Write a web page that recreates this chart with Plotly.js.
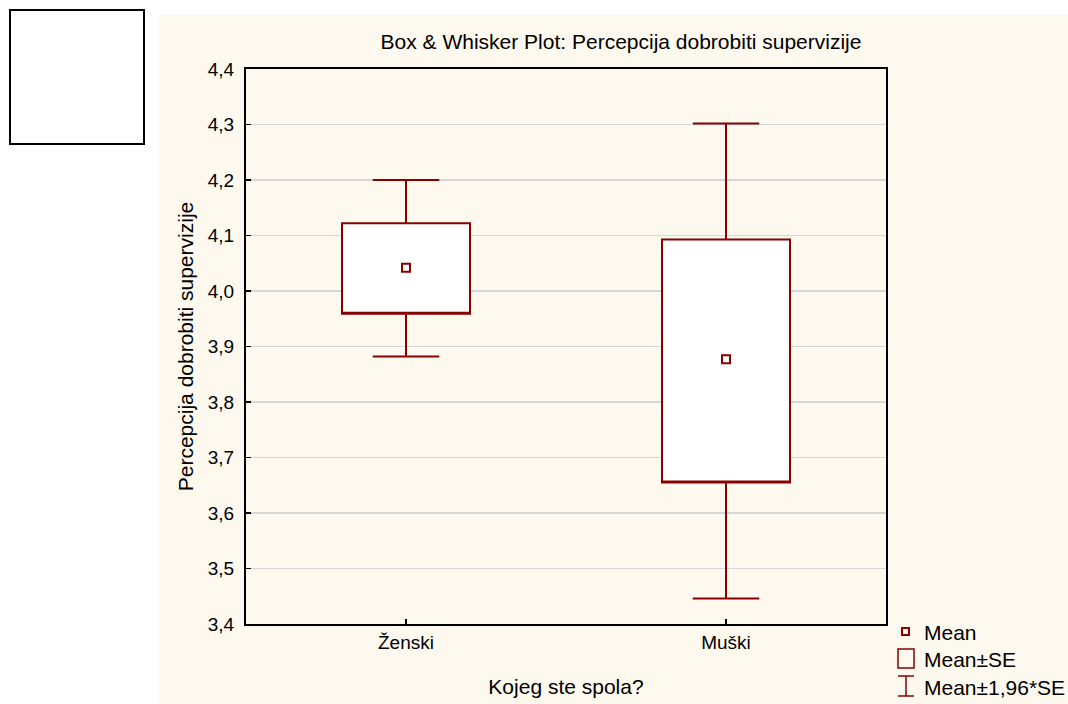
<!DOCTYPE html>
<html>
<head>
<meta charset="utf-8">
<script src="https://cdn.plot.ly/plotly-3.0.1.min.js"></script>
<style>
html,body{margin:0;padding:0;background:#ffffff;}
#chart{width:1068px;height:704px;}
</style>
</head>
<body>
<div id="chart"></div>
<script>
// ---- data ----
const categories = ['Ženski', 'Muški'];
const means   = [4.042, 3.877];
const seLow   = [3.959, 3.655];
const seHigh  = [4.122, 4.093];
const ciLow   = [3.882, 3.446];
const ciHigh  = [4.200, 4.302];
const yTicks  = [3.4, 3.5, 3.6, 3.7, 3.8, 3.9, 4.0, 4.1, 4.2, 4.3, 4.4];
const legendLabels = ['Mean', 'Mean±SE', 'Mean±1,96*SE'];

// ---- styling / layout helpers ----
const RED = '#880000';
const CREAM = '#fdf9ef';
const FONT = 'Liberation Sans, Arial, sans-serif';
const W = 1068, H = 704;
const L = 246, R = 886, T = 69, B = 624;
const px = x => (x - L) / (R - L);
const py = y => (B - y) / (B - T);

const boxTrace = {
  type: 'box',
  x: categories,
  q1: seLow,
  median: seLow,
  q3: seHigh,
  lowerfence: ciLow,
  upperfence: ciHigh,
  width: 0.4,
  whiskerwidth: 0.52,
  fillcolor: '#ffffff',
  line: {color: RED, width: 2},
  boxpoints: false,
  showlegend: false,
  hoverinfo: 'skip'
};

const meanTrace = {
  type: 'scatter',
  mode: 'markers',
  x: categories,
  y: means,
  marker: {symbol: 'square-open', size: 8, color: RED, line: {width: 2, color: RED}},
  showlegend: false,
  hoverinfo: 'skip'
};

const shapes = [
  // cream background panel
  {type: 'rect', xref: 'paper', yref: 'paper', layer: 'below',
   x0: px(158), x1: px(1070), y0: py(706), y1: py(15),
   fillcolor: CREAM, line: {width: 0}},
  // empty white box top-left
  {type: 'rect', xref: 'paper', yref: 'paper',
   x0: px(10), x1: px(144), y0: py(144), y1: py(10),
   fillcolor: '#ffffff', line: {color: '#000000', width: 2}},
  // legend icons
  {type: 'rect', xref: 'paper', yref: 'paper',
   x0: px(902), x1: px(909), y0: py(635), y1: py(628),
   fillcolor: 'rgba(0,0,0,0)', line: {color: RED, width: 2}},
  {type: 'rect', xref: 'paper', yref: 'paper',
   x0: px(898), x1: px(914), y0: py(668), y1: py(649),
   fillcolor: 'rgba(0,0,0,0)', line: {color: RED, width: 1.5}},
  {type: 'line', xref: 'paper', yref: 'paper',
   x0: px(906), x1: px(906), y0: py(696), y1: py(676), line: {color: RED, width: 1.5}},
  {type: 'line', xref: 'paper', yref: 'paper',
   x0: px(898), x1: px(914), y0: py(676), y1: py(676), line: {color: RED, width: 1.5}},
  {type: 'line', xref: 'paper', yref: 'paper',
   x0: px(898), x1: px(914), y0: py(696), y1: py(696), line: {color: RED, width: 1.5}}
];

const legendY = [632, 659, 687];
const annotations = legendLabels.map((t, i) => ({
  text: t, xref: 'paper', yref: 'paper', x: px(922), y: py(legendY[i]),
  xanchor: 'left', yanchor: 'middle', showarrow: false,
  font: {family: FONT, size: 21, color: '#000000'}
}));

const layout = {
  width: W, height: H,
  margin: {l: L, r: W - R, t: T, b: H - B, pad: 0},
  paper_bgcolor: '#ffffff',
  plot_bgcolor: '#ffffff',
  separators: ', ',
  font: {family: FONT, size: 19, color: '#000000'},
  showlegend: false,
  title: {
    text: 'Box & Whisker Plot: Percepcija dobrobiti supervizije',
    font: {family: FONT, size: 21, color: '#000000'},
    x: 621 / W, xref: 'container', xanchor: 'center',
    y: 1 - 42 / H, yref: 'container', yanchor: 'middle'
  },
  xaxis: {
    type: 'category',
    range: [-0.5, 1.5],
    showgrid: false,
    zeroline: false,
    showline: true, mirror: true, linecolor: '#000000', linewidth: 2,
    ticks: 'inside', ticklen: 5, tickwidth: 1.5, tickcolor: '#000000',
    tickfont: {family: FONT, size: 19, color: '#000000'},
    title: {text: 'Kojeg ste spola?', font: {family: FONT, size: 21, color: '#000000'}, standoff: 28},
    automargin: false, fixedrange: true
  },
  yaxis: {
    range: [3.4, 4.4],
    tickvals: yTicks,
    tickformat: '.1f',
    showgrid: true, gridcolor: '#d6d6d6', gridwidth: 1.5,
    zeroline: false,
    showline: true, mirror: true, linecolor: '#000000', linewidth: 2,
    ticks: 'inside', ticklen: 5, tickwidth: 1.5, tickcolor: '#000000',
    tickfont: {family: FONT, size: 19, color: '#000000'},
    ticklabelstandoff: 6,
    title: {text: 'Percepcija dobrobiti supervizije', font: {family: FONT, size: 21, color: '#000000'}, standoff: 8},
    automargin: false, fixedrange: true
  },
  shapes: shapes,
  annotations: annotations
};

Plotly.newPlot('chart', [boxTrace, meanTrace], layout, {displayModeBar: false, staticPlot: true});
</script>
</body>
</html>
